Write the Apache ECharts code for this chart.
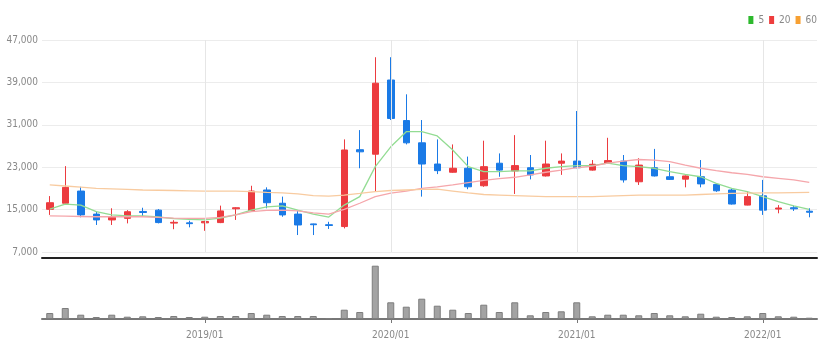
<!DOCTYPE html>
<html><head><meta charset="utf-8">
<script src="https://cdn.jsdelivr.net/npm/echarts@6/dist/echarts.min.js"></script>
<style>html,body{margin:0;padding:0;background:#fff}#c{width:835px;height:359px}</style>
</head><body><div id="c"></div>
<script>
const months = ['2018/03','2018/04','2018/05','2018/06','2018/07','2018/08','2018/09','2018/10','2018/11','2018/12',
'2019/01','2019/02','2019/03','2019/04','2019/05','2019/06','2019/07','2019/08','2019/09','2019/10','2019/11','2019/12',
'2020/01','2020/02','2020/03','2020/04','2020/05','2020/06','2020/07','2020/08','2020/09','2020/10','2020/11','2020/12',
'2021/01','2021/02','2021/03','2021/04','2021/05','2021/06','2021/07','2021/08','2021/09','2021/10','2021/11','2021/12',
'2022/01','2022/02','2022/03','2022/04'];
const opens  = [15050,16200,18500,14150,13050,13350,14650,14900,12450,12500,12500,12550,15150,14800,18700,16200,14150,12300,12150,11800,26300,25450,39450,31800,27600,23600,22050,22800,19500,23750,22300,22900,21350,23750,24150,22450,23750,24150,20250,22900,21200,20750,21200,19750,18700,15850,17600,15100,15350,14700];
const closes = [16300,19200,14000,13050,13550,14600,14450,12550,12600,12350,12750,14750,15350,18500,16300,14000,12100,12150,12000,26250,25900,38850,32200,27600,23600,22350,22800,19300,23100,22450,23300,21550,23600,24150,22900,23550,24250,20600,23400,21350,20700,21350,19850,18550,16050,17450,14900,15300,15150,14500];
const lows   = [14000,16100,13550,12100,12100,12400,13700,12400,11300,11650,11000,12450,13050,14700,15250,13650,10200,10200,11350,11450,22800,18400,31900,27300,17450,21700,21950,18850,19300,21200,17950,20700,21250,21550,22800,22350,23650,20100,19650,21250,20600,19200,19200,18350,15950,15800,14000,14300,14750,13550];
const highs  = [17550,23200,19300,14600,15250,14900,15350,15100,13000,12900,12900,15750,15450,19500,19200,17450,14800,12350,12700,28250,30000,43750,43750,36750,31900,28250,27300,25000,28000,25600,29050,25300,28000,25600,33600,24350,28550,25300,24700,26450,23600,21450,24350,19900,19000,18400,20600,15850,15750,15250];
const volumes = [600000,1100000,430000,200000,430000,230000,270000,200000,300000,200000,230000,300000,300000,600000,430000,300000,300000,300000,100000,930000,700000,5330000,1670000,1230000,2030000,1330000,930000,600000,1430000,700000,1670000,370000,700000,770000,1670000,270000,430000,430000,370000,600000,370000,270000,530000,230000,200000,270000,600000,270000,230000,130000];
const ma5  = [15100,16050,15850,14600,14000,13800,13800,13600,13300,13150,13050,13400,14000,14900,15500,15700,14900,14150,13600,15850,17450,23100,26850,29700,29700,28900,26250,23100,22150,22150,22300,22300,22800,23100,23300,23300,23750,23300,23100,22800,22150,21650,21200,19950,19000,18400,17450,16500,15700,15050];
const ma20 = [13800,13750,13700,13650,13650,13650,13650,13550,13400,13350,13350,13550,14000,14600,14850,14900,14750,14400,14150,15050,16200,17450,18100,18500,19000,19300,19650,20100,20500,20850,21100,21550,22050,22450,22900,23200,23750,24150,24450,24350,24050,23400,22800,22350,21950,21650,21200,20900,20600,20150];
const ma60 = [19650,19450,19250,19000,18900,18800,18700,18650,18600,18550,18500,18500,18500,18400,18250,18150,17950,17650,17550,17750,18050,18400,18600,18700,18800,18850,18500,18150,17850,17750,17650,17550,17450,17450,17450,17450,17550,17650,17750,17750,17750,17750,17850,17950,18050,18100,18150,18150,18200,18250];
const yearMarks = ['2019/01','2020/01','2021/01','2022/01'];
const priceMin = 7000, priceMax = 47000, priceStep = 8000;
const volMax = 6100000;

const UP = '#ec3b3f', DOWN = '#1a7ae6';
const FONT = "'DejaVu Sans Condensed',sans-serif";
const isYear = (i) => months[i].endsWith('/01');

const chart = echarts.init(document.getElementById('c'), null, {renderer: 'canvas'});
chart.setOption({
  animation: false,
  backgroundColor: '#fff',
  legend: {
    data: ['5', '20', '60'], right: 18, top: 15, icon: 'rect', itemWidth: 5, itemHeight: 8, itemGap: 5, padding: 0,
    textStyle: {color: '#888', fontSize: 10, fontFamily: FONT}
  },
  grid: [
    {left: 42, right: 18, top: 40, height: 212},
    {left: 42, right: 18, top: 258, height: 61}
  ],
  xAxis: [
    {type: 'category', gridIndex: 0, data: months, boundaryGap: true,
      axisLine: {show: false}, axisTick: {show: false}, axisLabel: {show: false}, splitLine: {show: false}},
    {type: 'category', gridIndex: 1, data: months, boundaryGap: true, position: 'bottom',
      axisLine: {show: true, lineStyle: {color: '#777', width: 2}},
      axisTick: {show: true, interval: isYear, alignWithLabel: true, length: 4, lineStyle: {color: '#777'}},
      axisLabel: {show: true, interval: isYear, color: '#888', fontSize: 10, fontFamily: FONT, margin: 11},
      splitLine: {show: false}},
    {type: 'category', gridIndex: 1, data: months, boundaryGap: true, position: 'top',
      axisLine: {show: true, onZero: false, lineStyle: {color: '#222', width: 2}},
      axisTick: {show: false}, axisLabel: {show: false}, splitLine: {show: false}}
  ],
  yAxis: [
    {type: 'value', gridIndex: 0, min: priceMin, max: priceMax, interval: priceStep, scale: true,
      axisLine: {show: false}, axisTick: {show: false},
      axisLabel: {color: '#888', fontSize: 10, fontFamily: FONT, margin: 4,
        formatter: (v) => v.toLocaleString('en-US')},
      splitLine: {show: true, lineStyle: {color: '#ececec', width: 1}}},
    {type: 'value', gridIndex: 1, min: 0, max: volMax, show: false, splitLine: {show: false}}
  ],
  series: [
    {type: 'candlestick', name: 'price', xAxisIndex: 0, yAxisIndex: 0, barWidth: 7,
      data: months.map((m, i) => [opens[i], closes[i], lows[i], highs[i]]),
      itemStyle: {color: UP, color0: DOWN, borderColor: UP, borderColor0: DOWN, borderWidth: 1},
      markLine: {silent: true, symbol: 'none', label: {show: false}, animation: false,
        lineStyle: {color: '#e6e6e6', width: 1, type: 'solid'},
        data: yearMarks.map(m => ({xAxis: m}))}},
    {type: 'line', name: '5', xAxisIndex: 0, yAxisIndex: 0, data: ma5, symbol: 'none', z: 3,
      itemStyle: {color: '#2db92d'}, lineStyle: {color: '#93dc93', width: 1.3}},
    {type: 'line', name: '20', xAxisIndex: 0, yAxisIndex: 0, data: ma20, symbol: 'none', z: 3,
      itemStyle: {color: '#ee3d3d'}, lineStyle: {color: '#f5a6ab', width: 1.3}},
    {type: 'line', name: '60', xAxisIndex: 0, yAxisIndex: 0, data: ma60, symbol: 'none', z: 3,
      itemStyle: {color: '#f7a032'}, lineStyle: {color: '#f8cba0', width: 1.3}},
    {type: 'bar', name: 'vol', xAxisIndex: 1, yAxisIndex: 1, data: volumes, barWidth: 7,
      itemStyle: {color: '#a3a3a3', borderColor: '#7d7d7d', borderWidth: 1}}
  ]
});
</script></body></html>
